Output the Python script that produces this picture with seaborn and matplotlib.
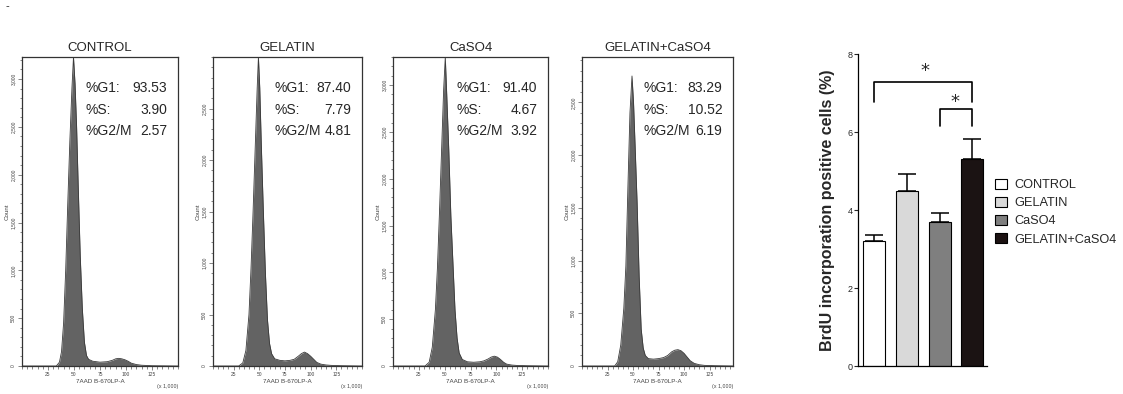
import numpy as np
import matplotlib
matplotlib.use("Agg")
import matplotlib.pyplot as plt
from matplotlib.ticker import MultipleLocator, FuncFormatter
from matplotlib.patches import Patch
import seaborn as sns

# ===============================
# DATA
# ===============================
PANELS = ["CONTROL", "GELATIN", "CaSO4", "GELATIN+CaSO4"]

G1 = ["93.53", "87.40", "91.40", "83.29"]
S_PHASE = ["3.90", "7.79", "4.67", "10.52"]
G2M = ["2.57", "4.81", "3.92", "6.19"]

# histogram outlines (7AAD x1,000 vs count)
ctrl_x = [0, 33, 36, 38, 40, 42, 44, 46, 48, 49.5, 51, 52.5, 54, 56, 58, 60, 62, 64, 68, 75, 82,
          87, 90, 93, 96, 99, 102, 105, 110, 115, 125, 150]
ctrl_y = [0, 0, 40, 150, 450, 1000, 1700, 2350, 2900, 3230, 2950, 2500, 1900, 1150, 600, 250, 110,
          70, 50, 40, 45, 60, 75, 80, 75, 65, 50, 30, 15, 8, 3, 0]

gel_x = [5, 30, 34, 37, 40, 42, 44, 46, 48, 49.2, 50.5, 52, 54, 56, 58, 60, 62, 65, 70, 75, 80,
         84, 88, 91, 94, 97, 100, 103, 106, 110, 115, 120, 130, 150]
gel_y = [0, 0, 30, 150, 500, 950, 1500, 2100, 2700, 3000, 2700, 2150, 1500, 900, 450, 220, 120,
         70, 55, 50, 55, 65, 95, 120, 135, 120, 95, 65, 35, 18, 10, 6, 3, 0]

caso_x = [0, 31, 35, 38, 41, 43, 45, 47, 49, 50.6, 52, 54, 56, 58, 60, 62, 64, 67, 72, 78, 84,
          88, 92, 95, 98, 101, 104, 107, 110, 115, 120, 130, 150]
caso_y = [0, 0, 40, 200, 600, 1050, 1650, 2300, 2950, 3300, 2900, 2300, 1600, 1100, 600, 300, 140,
          70, 45, 40, 45, 55, 75, 95, 105, 95, 70, 40, 20, 10, 6, 3, 0]

gc_x = [0, 32, 35, 38, 41, 43, 45, 47, 49, 50.5, 52, 54, 56, 58, 60, 62, 65, 70, 75, 80, 84,
        88, 91, 94, 97, 100, 103, 106, 110, 115, 120, 130, 150]
gc_y = [0, 0, 40, 200, 550, 950, 1700, 2400, 2750, 2500, 2100, 1550, 850, 350, 170, 100, 70,
        65, 70, 80, 100, 135, 150, 155, 145, 120, 85, 50, 25, 12, 6, 3, 0]

HIST_X = [ctrl_x, gel_x, caso_x, gc_x]
HIST_Y = [ctrl_y, gel_y, caso_y, gc_y]
HIST_YMAX = [3230, 3000, 3300, 2930]
HIST_XLIM = [(0, 150), (5, 150), (0, 150), (0, 148)]

# BrdU bar chart
GROUPS = ["CONTROL", "GELATIN", "CaSO4", "GELATIN+CaSO4"]
BRDU_MEAN = [3.2, 4.5, 3.7, 5.32]
BRDU_SEM = [0.16, 0.42, 0.23, 0.5]
BAR_COLORS = ["#ffffff", "#d9d9d9", "#7f7f7f", "#1c1212"]

# ===============================
# STYLE
# ===============================
W, H = 1123, 394
sns.set_style("white")
plt.rcParams["font.family"] = ["Liberation Sans", "DejaVu Sans"]

fig = plt.figure(figsize=(W / 100, H / 100), dpi=100)

PANEL_PX = [(22, 178), (213, 362), (393, 548), (582, 733)]
TOP_PX, BOT_PX = 57, 366

# ===============================
# CELL CYCLE HISTOGRAMS
# ===============================
for i, name in enumerate(PANELS):
    l, r = PANEL_PX[i]
    ax = fig.add_axes([l / W, 1 - BOT_PX / H, (r - l) / W, (BOT_PX - TOP_PX) / H])
    ax.fill_between(HIST_X[i], HIST_Y[i], color="#636363", lw=0)
    sns.lineplot(x=HIST_X[i], y=HIST_Y[i], ax=ax, color="#3a3a3a", lw=0.6)
    ax.set_xlim(*HIST_XLIM[i])
    ax.set_ylim(0, HIST_YMAX[i])

    ax.set_xticks([25, 50, 75, 100, 125])
    ax.xaxis.set_minor_locator(MultipleLocator(5))
    ax.set_yticks(np.arange(0, HIST_YMAX[i], 500))
    ax.yaxis.set_minor_locator(MultipleLocator(100))
    ax.yaxis.set_major_formatter(FuncFormatter(lambda v, p: f"{int(v):,}"))
    ax.tick_params(which="both", direction="out", bottom=True, left=True,
                   width=0.5, color="#555555")
    ax.tick_params(which="major", length=3, labelsize=3.5, pad=1.5, labelcolor="#444444")
    ax.tick_params(which="minor", length=1.8)
    for lab in ax.get_yticklabels():
        lab.set_rotation(90)
        lab.set_va("center")
    for sp in ax.spines.values():
        sp.set_color("#333333")
        sp.set_linewidth(0.9)

    ax.set_ylabel("Count", fontsize=4.5, color="#444444", labelpad=1)
    ax.set_xlabel("7AAD B-670LP-A", fontsize=4.5, color="#444444", labelpad=1)
    ax.text(1.0, -0.065, "(x 1,000)", transform=ax.transAxes, fontsize=3.8,
            color="#444444", ha="right", va="center")
    ax.set_title(name, fontsize=9.5, pad=4.5)

    rows = [("%G1:", G1[i]), ("%S:", S_PHASE[i]), ("%G2/M", G2M[i])]
    for k, (lab, val) in enumerate(rows):
        y = 0.9 - k * 0.07
        ax.text(0.41, y, lab, transform=ax.transAxes, fontsize=10, va="center", ha="left")
        ax.text(0.93, y, val, transform=ax.transAxes, fontsize=10, va="center", ha="right")

# ===============================
# BrdU BAR CHART
# ===============================
axb = fig.add_axes([858 / W, 1 - 366 / H, (987 - 858) / W, (366 - 54) / H])
sns.barplot(x=GROUPS, y=BRDU_MEAN, hue=GROUPS, palette=BAR_COLORS, edgecolor="black",
            linewidth=0.8, width=0.67, ax=axb, legend=False, zorder=2)
pos = np.arange(len(GROUPS))
axb.errorbar(pos, BRDU_MEAN, yerr=[np.zeros(len(GROUPS)), BRDU_SEM], fmt="none",
             ecolor="black", elinewidth=1.1, capsize=6.5, capthick=1.1, zorder=1)
axb.set_xlim(-0.5, 3.45)
axb.set_ylim(0, 8)
axb.set_yticks([0, 2, 4, 6, 8])
axb.set_xticks([])
axb.tick_params(axis="y", direction="out", length=3, width=0.8, left=True,
                labelsize=6.5, pad=1)
sns.despine(ax=axb)
for sp in ("left", "bottom"):
    axb.spines[sp].set_linewidth(0.9)
    axb.spines[sp].set_color("black")
axb.set_ylabel("BrdU incorporation positive cells (%)", fontsize=11.5, fontweight="bold",
               labelpad=9)

# significance brackets
BIG_LEVEL, SMALL_LEVEL = 7.29, 6.6
axb.plot([0, 0, 3, 3], [BIG_LEVEL - 0.51, BIG_LEVEL, BIG_LEVEL, BIG_LEVEL - 0.51],
         color="black", lw=1.2)
axb.text(1.56, BIG_LEVEL + 0.05, "*", fontsize=13, ha="center", va="bottom",
         family=["DejaVu Sans"])
axb.plot([2, 2, 3, 3], [SMALL_LEVEL - 0.45, SMALL_LEVEL, SMALL_LEVEL, SMALL_LEVEL - 0.45],
         color="black", lw=1.2)
axb.text(2.48, SMALL_LEVEL - 0.05, "*", fontsize=13, ha="center", va="bottom",
         family=["DejaVu Sans"])

handles = [Patch(facecolor=c, edgecolor="black", linewidth=0.8) for c in BAR_COLORS]
fig.legend(handles, GROUPS, loc="upper left", bbox_to_anchor=(995 / W, 1 - 179 / H),
           frameon=False, fontsize=9.2, handlelength=0.95, handleheight=0.8,
           handletextpad=0.6, labelspacing=0.45, borderpad=0, borderaxespad=0)

fig.text(6 / W, 1 - 6 / H, "-", fontsize=8, va="center")

fig.savefig("out.png", dpi=100)
plt.close(fig)
